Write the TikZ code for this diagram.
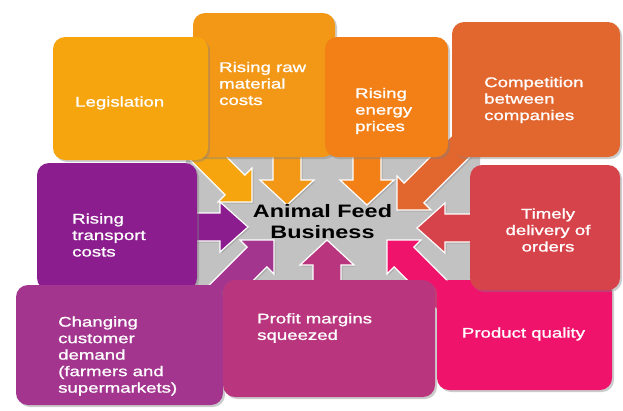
\documentclass[tikz,border=0pt]{standalone}
\usepackage{fontspec}
\setmainfont{Liberation Sans}
\newfontfamily\lblfont[FakeStretch=1.33,FakeBold=1.2]{Liberation Sans}
\newfontfamily\ctrfont[FakeStretch=1.3]{Liberation Sans}
\usetikzlibrary{calc,shadows}
\pgfdeclarelayer{back}
\pgfdeclarelayer{mid}
\pgfsetlayers{back,mid,main}
\definecolor{bggray}{RGB}{194,194,194}
\definecolor{cLeg}{HTML}{F6A50F}
\definecolor{cRaw}{HTML}{F39816}
\definecolor{cEn}{HTML}{F28016}
\definecolor{cComp}{HTML}{E2672F}
\definecolor{cTr}{HTML}{8B1D8E}
\definecolor{cChg}{HTML}{A3358F}
\definecolor{cPr}{HTML}{B9367F}
\definecolor{cTi}{HTML}{D7434A}
\definecolor{cPq}{HTML}{EF136B}
\newcommand\feedarrow[5]{% #1 colour, #2 start, #3 tip, #4 half head width, #5 head length
  \path ($(#3)!#5!(#2)$) coordinate (fa-b);
  \path ($(fa-b)!#4!90:(#3)$) coordinate (fa-h1)
        ($(fa-b)!#4!-90:(#3)$) coordinate (fa-h2)
        ($(fa-b)!14pt!90:(#3)$) coordinate (fa-b1)
        ($(fa-b)!14pt!-90:(#3)$) coordinate (fa-b2)
        ($(#2)!14pt!90:(#3)$) coordinate (fa-s1)
        ($(#2)!14pt!-90:(#3)$) coordinate (fa-s2);
  \filldraw[arrowbody, fill=#1] (fa-s1) -- (fa-b1) -- (fa-h1) -- (#3) -- (fa-h2) -- (fa-b2) -- (fa-s2) -- cycle;
}
\begin{document}
\begin{tikzpicture}[x=1pt,y=-1pt,
  box/.style={rounded corners=12pt, draw=none, inner sep=0pt,
    drop shadow={opacity=0.4, shadow xshift=2pt, shadow yshift=-2pt}},
  arrowbody/.style={draw=white, line width=1.2pt, line join=miter,
    drop shadow={opacity=0.35, shadow xshift=1.5pt, shadow yshift=-1.5pt}},
  lbl/.style={text=white, font=\lblfont\fontsize{14}{16.5}\selectfont, align=left, inner sep=0pt, anchor=west},
  ctr/.style={text=black, font=\ctrfont\bfseries\fontsize{18}{21}\selectfont, align=center, inner sep=0pt}]
\useasboundingbox (0,0) rectangle (623,410);
\begin{pgfonlayer}{back}
  \fill[white] (0,0) rectangle (623,410);
  \fill[bggray, rounded corners=8pt] (186,145) rectangle (480,292);
\end{pgfonlayer}

% boxes (drawing order = stacking order)
\node[box, fill=cRaw, minimum width=142pt, minimum height=144pt] (raw) at (264,85) {};
\node[box, fill=cLeg, minimum width=155pt, minimum height=123pt] (leg) at (130.5,98.5) {};
\node[box, fill=cEn, minimum width=123pt, minimum height=120pt] (en) at (386.5,97) {};
\node[box, fill=cComp, minimum width=168pt, minimum height=135pt] (comp) at (536,89.5) {};
\node[box, fill=cTr, minimum width=160pt, minimum height=127pt] (tr) at (117,226.5) {};
\node[box, fill=cChg, minimum width=207pt, minimum height=120pt] (chg) at (119.5,345) {};
\node[box, fill=cPr, minimum width=212pt, minimum height=117pt] (pr) at (329,338.5) {};
\node[box, fill=cPq, minimum width=175pt, minimum height=110pt] (pq) at (524.5,335) {};
\node[box, fill=cTi, minimum width=150pt, minimum height=125pt] (ti) at (545,227.5) {};

% arrow tips
\coordinate (tLeg) at (252,202);
\coordinate (tRaw) at (287,205);
\coordinate (tEn) at (367,205);
\coordinate (tComp) at (397,210);
\coordinate (tTr) at (248,227);
\coordinate (tTi) at (417,228);
\coordinate (tChg) at (274,240);
\coordinate (tPr) at (327,240);
\coordinate (tPq) at (387,240);
% arrow starts inside the boxes
\coordinate (sLeg) at ($(leg.south east)+(-12,-14)$);
\coordinate (sRaw) at ($(raw.south -| tRaw)+(0,-12)$);
\coordinate (sEn) at ($(en.south -| tEn)+(0,-12)$);
\coordinate (sComp) at ($(comp.south west)+(10,-12)$);
\coordinate (sTr) at ($(tr.east |- tTr)+(-12,0)$);
\coordinate (sTi) at ($(ti.west |- tTi)+(12,0)$);
\coordinate (sChg) at ($(chg.north east)+(-11,17)$);
\coordinate (sPr) at ($(pr.north -| tPr)+(0,12)$);
\coordinate (sPq) at ($(pq.north west)+(10,20)$);

\begin{pgfonlayer}{mid}
  \feedarrow{cLeg}{sLeg}{tLeg}{24pt}{24pt}
  \feedarrow{cRaw}{sRaw}{tRaw}{27pt}{25pt}
  \feedarrow{cEn}{sEn}{tEn}{27pt}{25pt}
  \feedarrow{cComp}{sComp}{tComp}{24pt}{24pt}
  \feedarrow{cTr}{sTr}{tTr}{25pt}{28pt}
  \feedarrow{cTi}{sTi}{tTi}{25pt}{28pt}
  \feedarrow{cChg}{sChg}{tChg}{24pt}{24pt}
  \feedarrow{cPr}{sPr}{tPr}{27pt}{25pt}
  \feedarrow{cPq}{sPq}{tPq}{24pt}{24pt}
\end{pgfonlayer}

% labels
\node[lbl] (l-leg) at (75,103) {Legislation};
\node[lbl] (l-raw) at (219,83.5) {Rising raw\\material\\costs};
\node[lbl] (l-en) at (355,111) {Rising\\energy\\prices};
\node[lbl] (l-comp) at (484,100) {Competition\\between\\companies};
\node[lbl] (l-tr) at (72,235) {Rising\\transport\\costs};
\node[lbl] (l-chg) at (58,356) {Changing\\customer\\demand\\(farmers and\\supermarkets)};
\node[lbl] (l-pr) at (257,328) {Profit margins\\squeezed};
\node[lbl, align=center, anchor=center] (l-ti) at (548,230) {Timely\\delivery of\\orders};
\node[lbl, anchor=center] (l-pq) at (523.5,334) {Product quality};
\node[ctr] (centre) at (322.5,222) {Animal Feed\\Business};
\end{tikzpicture}
\end{document}
